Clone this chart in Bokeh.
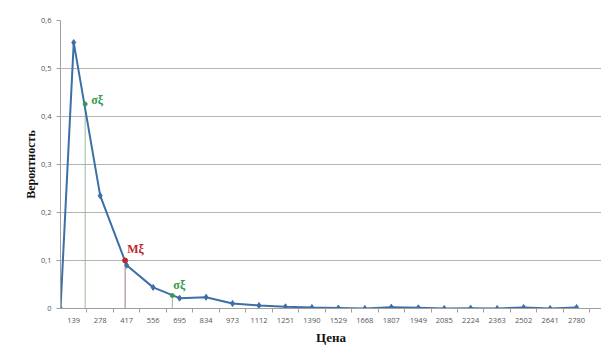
from bokeh.plotting import figure
from bokeh.models import FixedTicker, Range1d
from bokeh.core.properties import value
from bokeh.embed import file_html
from bokeh.resources import INLINE

# Data
price = [69.5, 139, 278, 417, 556, 695, 834, 973, 1112, 1251, 1390, 1529, 1668,
         1807, 1949, 2085, 2224, 2363, 2502, 2641, 2780]
prob = [0.0, 0.554, 0.235, 0.090, 0.044, 0.0215, 0.0235, 0.0104, 0.0063, 0.0035,
        0.002, 0.001, 0.0, 0.0028, 0.0014, 0.0, 0.0007, 0.0, 0.002, 0.0, 0.002]
tick_labels = ["139", "278", "417", "556", "695", "834", "973", "1112", "1251", "1390",
               "1529", "1668", "1807", "1949", "2085", "2224", "2363", "2502", "2641", "2780"]
y_ticks = [0, 0.1, 0.2, 0.3, 0.4, 0.5, 0.6]
y_tick_labels = ["0", "0,1", "0,2", "0,3", "0,4", "0,5", "0,6"]

sigma_x = [199, 657]
sigma_y = [0.426, 0.027]
m_x = [409]
m_y = [0.1]

p = figure(width=601, height=353, output_backend="svg", toolbar_location=None,
           x_range=Range1d(69.5, 2911), y_range=Range1d(0, 0.6),
           min_border_left=60, min_border_right=0, min_border_top=20, min_border_bottom=45)
p.outline_line_color = None
p.background_fill_color = "white"

# grid
p.xgrid.grid_line_color = None
p.ygrid.grid_line_color = "#b4b4b4"
p.ygrid.grid_line_width = 1

# axes
tick_vals = [float(t) for t in tick_labels]
minor = [69.5 + 139 * k for k in range(1, 21)]
p.xaxis.ticker = FixedTicker(ticks=tick_vals, minor_ticks=minor)
p.xaxis.major_label_overrides = {v: l for v, l in zip(tick_vals, tick_labels)}
p.xaxis.major_tick_out = 0
p.xaxis.major_tick_in = 0
p.xaxis.minor_tick_out = 4
p.xaxis.minor_tick_in = 0
p.xaxis.minor_tick_line_color = "#a0a0a0"
p.xaxis.axis_line_color = "#a0a0a0"
p.xaxis.major_label_standoff = 5
p.xaxis.major_label_text_font = "Open Sans"
p.xaxis.major_label_text_font_size = "7.5px"
p.xaxis.major_label_text_color = "#555555"
p.xaxis.axis_label = "Цена"
p.xaxis.axis_label_text_font = "Liberation Serif"
p.xaxis.axis_label_text_font_style = "bold"
p.xaxis.axis_label_text_font_size = "13px"
p.xaxis.axis_label_text_color = "#111111"
p.xaxis.axis_label_standoff = 4

p.yaxis.ticker = FixedTicker(ticks=y_ticks)
p.yaxis.major_label_overrides = {v: l for v, l in zip(y_ticks, y_tick_labels)}
p.yaxis.major_tick_out = 4
p.yaxis.major_tick_in = 0
p.yaxis.minor_tick_out = 0
p.yaxis.minor_tick_in = 0
p.yaxis.major_tick_line_color = "#a0a0a0"
p.yaxis.axis_line_color = "#a0a0a0"
p.yaxis.major_label_standoff = 5
p.yaxis.major_label_text_font = "Open Sans"
p.yaxis.major_label_text_font_size = "7.5px"
p.yaxis.major_label_text_color = "#555555"
p.yaxis.axis_label = "Вероятность"
p.yaxis.axis_label_text_font = "Liberation Serif"
p.yaxis.axis_label_text_font_style = "bold"
p.yaxis.axis_label_text_font_size = "12px"
p.yaxis.axis_label_text_color = "#111111"
p.yaxis.axis_label_standoff = 0

# vertical marker lines
p.segment(x0=sigma_x, y0=[0, 0], x1=sigma_x, y1=sigma_y, line_color="#9cb89c", line_width=1)
p.segment(x0=m_x, y0=[0], x1=m_x, y1=m_y, line_color="#a87878", line_width=1)

# main series
blue = "#3d6fa6"
p.line(price, prob, line_color=blue, line_width=2)
p.scatter(price, prob, marker="diamond", size=6, fill_color=blue, line_color=blue)

# special points
p.scatter(sigma_x, sigma_y, marker="circle", size=4, fill_color="#3a9a50", line_color="#3a9a50")
p.scatter(m_x, m_y, marker="circle", size=5, fill_color="#c0262d", line_color="#c0262d")

# labels
p.text(x=[sigma_x[0]], y=[sigma_y[0]], text=["σξ"], x_offset=6, y_offset=-4,
       text_align="left", text_baseline="middle", text_color="#2f9a4a",
       text_font=value("Liberation Serif"), text_font_style="bold", text_font_size="12px")
p.text(x=[sigma_x[1]], y=[sigma_y[1]], text=["σξ"], x_offset=1, y_offset=-11,
       text_align="left", text_baseline="middle", text_color="#2f9a4a",
       text_font=value("Liberation Serif"), text_font_style="bold", text_font_size="12px")
p.text(x=m_x, y=m_y, text=["Mξ"], x_offset=2, y_offset=-12,
       text_align="left", text_baseline="middle", text_color="#c0262d",
       text_font=value("Liberation Serif"), text_font_style="bold", text_font_size="12px")

open("out.html", "w").write(file_html(p, INLINE))
